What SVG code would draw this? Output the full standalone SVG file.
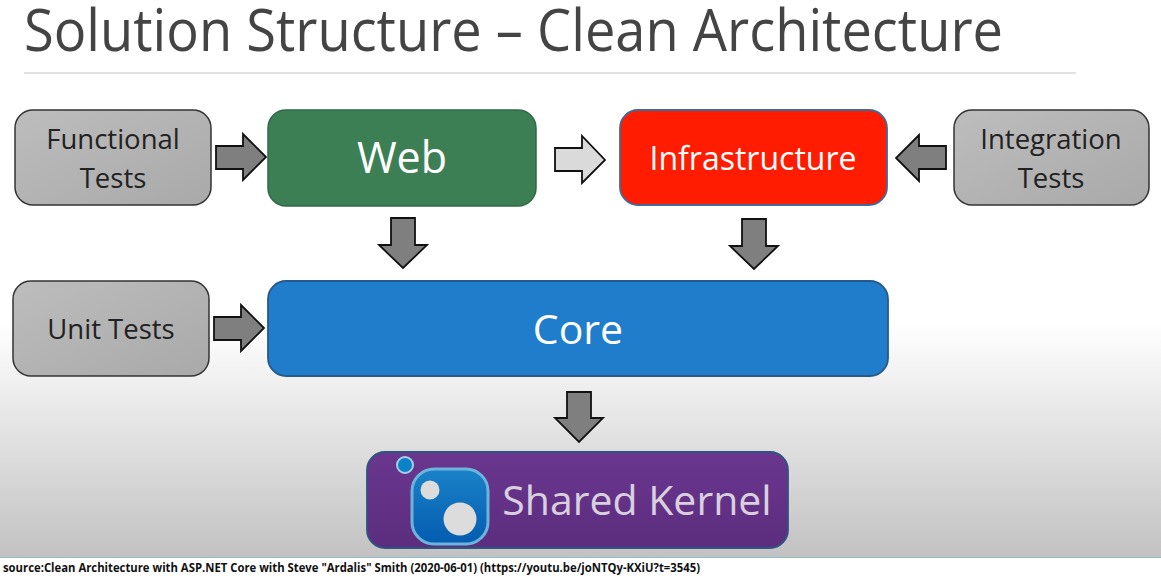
<svg xmlns="http://www.w3.org/2000/svg" width="1161" height="580" viewBox="0 0 1161 580">
<style>
text{font-family:"Open Sans","Noto Sans","Liberation Sans",sans-serif;text-anchor:middle}
.t{fill:#222;font-size:27.5px}
.w{fill:#fff}
.g{fill:url(#gray);stroke:#333;stroke-width:1.5}
.a{fill:#7f7f7f;stroke:#111;stroke-width:1.8;stroke-linejoin:miter}
</style>
<defs>
<linearGradient id="bg" x1="0" y1="0" x2="0" y2="1"><stop offset="0" stop-color="#fff"/><stop offset="0.58" stop-color="#fff"/><stop offset="1" stop-color="#c2c2c2"/></linearGradient>
<linearGradient id="gray" x1="0" y1="0" x2="1" y2="1"><stop offset="0" stop-color="#bdbdbd"/><stop offset="1" stop-color="#a9a9a9"/></linearGradient>
<linearGradient id="pur" x1="0" y1="0" x2="0" y2="1"><stop offset="0" stop-color="#6a368f"/><stop offset="1" stop-color="#5c2d7e"/></linearGradient>
<linearGradient id="nu" x1="0" y1="0" x2="0" y2="1"><stop offset="0" stop-color="#1a82c8"/><stop offset="1" stop-color="#045cb0"/></linearGradient>
</defs>
<rect id="background" width="1161" height="557" fill="url(#bg)"/>
<rect x="0" y="557" width="1161" height="23" fill="#fff"/>
<line x1="0" y1="557.5" x2="1161" y2="557.5" stroke="#8dbcc4"/>
<text x="24" y="51" font-size="58" fill="#444" textLength="979" lengthAdjust="spacingAndGlyphs" style="text-anchor:start">Solution Structure – Clean Architecture</text>
<line x1="24" y1="73" x2="1076" y2="73" stroke="#c4c4c4" stroke-width="1.2"/>
<g id="connectors">
<path class="a" d="M216 146H243V134L266 157L243 180V169H216Z"/>
<path class="a" d="M555 148H582V136L605 160L582 183V171H555Z" style="fill:#dadada"/>
<path class="a" d="M946 146H919V135L896 158L919 181V169H946Z"/>
<path class="a" d="M391 218H415V245H427L403 268L379 245H391Z"/>
<path class="a" d="M742 219H766V246H778L754 269L730 246H742Z"/>
<path class="a" d="M214 317H241V305L264 328L241 351V340H214Z"/>
<path class="a" d="M567 392H591V418H603L579 442L555 418H567Z"/>
</g>
<g id="functional-tests"><rect class="g" x="15" y="110" width="196" height="95" rx="18"/><text class="t" x="113" y="149">Functional</text><text class="t" x="113" y="188">Tests</text></g>
<g id="web"><rect x="268" y="110" width="268" height="96" rx="18" fill="#3d7f55" stroke="#2e6a45" stroke-width="1.5"/><text class="w" x="402" y="173" font-size="43">Web</text></g>
<g id="infrastructure"><rect x="620" y="110" width="267" height="95" rx="18" fill="#ff1c00" stroke="#3f6a9c" stroke-width="1.8"/><text class="w" x="753" y="170" font-size="32">Infrastructure</text></g>
<g id="integration-tests"><rect class="g" x="954" y="110" width="195" height="95" rx="18"/><text class="t" x="1051" y="149">Integration</text><text class="t" x="1051" y="188">Tests</text></g>
<g id="unit-tests"><rect class="g" x="13" y="281" width="196" height="95" rx="18"/><text class="t" x="111" y="339">Unit Tests</text></g>
<g id="core"><rect x="268" y="281" width="620" height="95" rx="18" fill="#1f7dcb" stroke="#27598a" stroke-width="1.8"/><text class="w" x="578" y="344" font-size="41">Core</text></g>
<g id="shared-kernel">
<rect x="367" y="452" width="421" height="96" rx="18" fill="url(#pur)" stroke="#2b5680" stroke-width="1.8"/>
<circle cx="405" cy="465" r="8" fill="#0a82c8" stroke="#a8cfe6" stroke-width="2"/>
<rect x="412" y="469" width="76" height="75" rx="22" fill="url(#nu)" stroke="#6db4dc" stroke-width="3"/>
<circle cx="430" cy="490" r="9.5" fill="#dcdcdc"/>
<circle cx="460" cy="519" r="16.5" fill="#dcdcdc"/>
<text x="637" y="515" font-size="41" fill="#d8d0de">Shared Kernel</text>
</g>
<text x="3" y="572" font-size="12" font-weight="bold" fill="#111" textLength="697" lengthAdjust="spacingAndGlyphs" style="text-anchor:start">source:Clean Architecture with ASP.NET Core with Steve "Ardalis" Smith (2020-06-01) (https://youtu.be/joNTQy-KXiU?t=3545)</text>
</svg>
